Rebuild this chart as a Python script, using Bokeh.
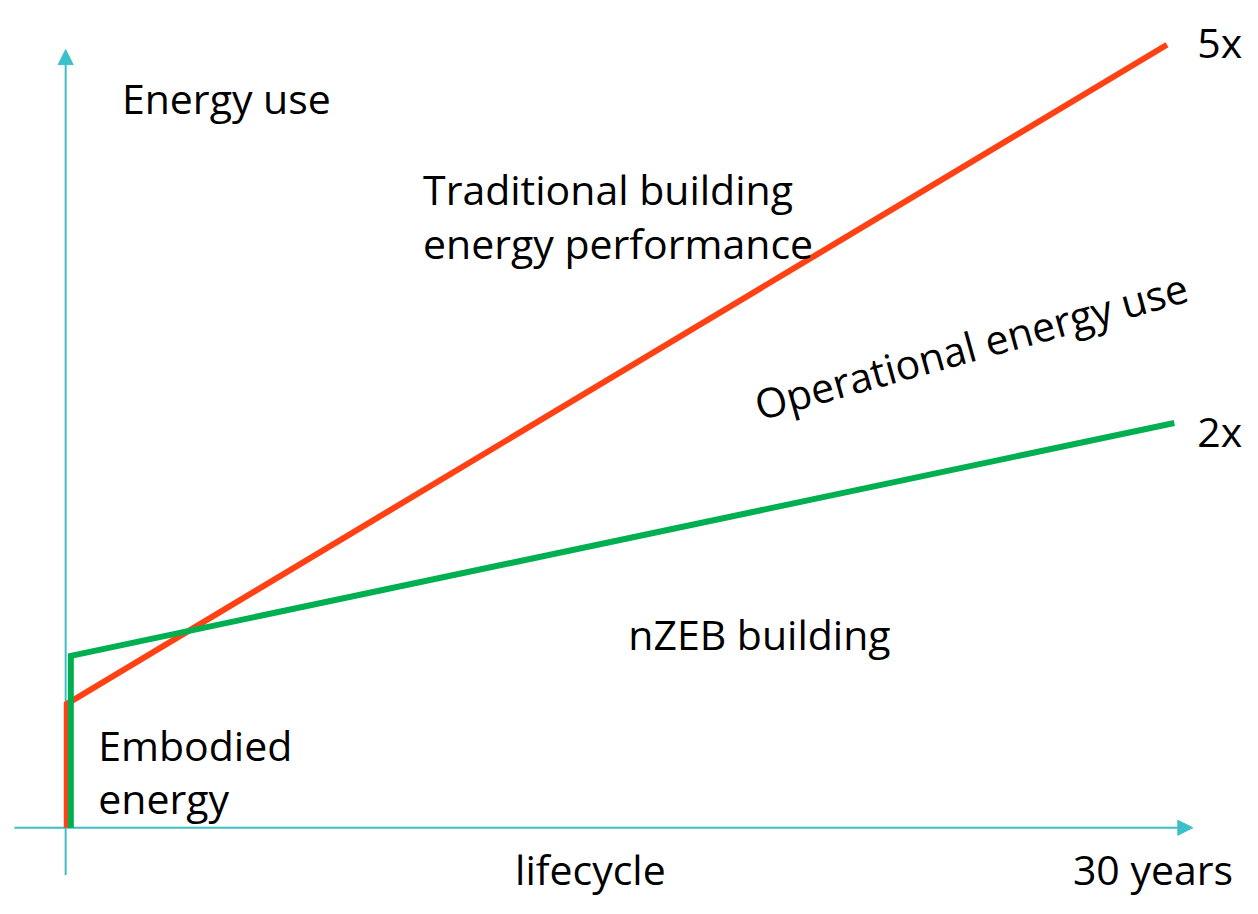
from bokeh.plotting import figure
from bokeh.models import Arrow, NormalHead, Range1d
from bokeh.core.properties import value
from bokeh.embed import file_html
from bokeh.resources import INLINE

# --- data (years on x, arbitrary energy units on y) ---
trad_x = [0.03, 0.03, 29.85]
trad_y = [0.0, 1.26, 7.97]
nzeb_x = [0.14, 0.14, 30.05]
nzeb_y = [0.0, 1.75, 4.12]

label_text = ["Energy use", "Traditional building", "energy performance",
              "nZEB building", "Embodied", "energy", "5x", "2x"]
label_x = [1.525, 9.687, 9.687, 15.25, 0.883, 0.883, 30.67, 30.67]
label_y = [7.43, 6.50, 5.95, 1.97, 0.84, 0.30, 8.00, 4.04]

axis_text = ["lifecycle", "30 years"]
axis_x = [12.18, 27.30]
axis_y = [-0.42, -0.42]

rot_text = ["Operational energy use"]
rot_x = [18.70]
rot_y = [4.30]
rot_angle = [15.5]

AXIS = "#3DBFC9"
RED = "#FF4114"
GREEN = "#00B050"
FONT = "Open Sans"
FSIZE = "41px"

p = figure(width=1242, height=898, output_backend="svg", toolbar_location=None,
           x_range=Range1d(-1.766, 31.897), y_range=Range1d(-0.72, 8.42),
           x_axis_location=None, y_axis_location=None, min_border=0)
p.grid.visible = False
p.outline_line_color = None
p.background_fill_color = "white"

# axes with arrows (drawn beneath the lines)
p.add_layout(Arrow(end=NormalHead(size=15, fill_color=AXIS, line_color=AXIS),
                   x_start=-1.39, y_start=0.0, x_end=30.55, y_end=0.0,
                   line_color=AXIS, line_width=2, level="underlay"))
p.add_layout(Arrow(end=NormalHead(size=15, fill_color=AXIS, line_color=AXIS),
                   x_start=0.0, y_start=-0.48, x_end=0.0, y_end=7.92,
                   line_color=AXIS, line_width=2, level="underlay"))

p.line(trad_x, trad_y, line_color=RED, line_width=6, line_join="miter")
p.line(nzeb_x, nzeb_y, line_color=GREEN, line_width=6, line_join="miter")

p.text(label_x, label_y, text=label_text, text_font=value(FONT),
       text_font_size=FSIZE, text_color="black", text_baseline="alphabetic",
       text_align="left")
p.text(axis_x, axis_y, text=axis_text, text_font=value(FONT),
       text_font_size=FSIZE, text_color="black", text_baseline="alphabetic",
       text_align="left")
p.text(rot_x, rot_y, text=rot_text, angle=rot_angle, angle_units="deg",
       text_font=value(FONT), text_font_size=FSIZE, text_color="black",
       text_baseline="alphabetic", text_align="left")

open("out.html", "w").write(file_html(p, INLINE))
